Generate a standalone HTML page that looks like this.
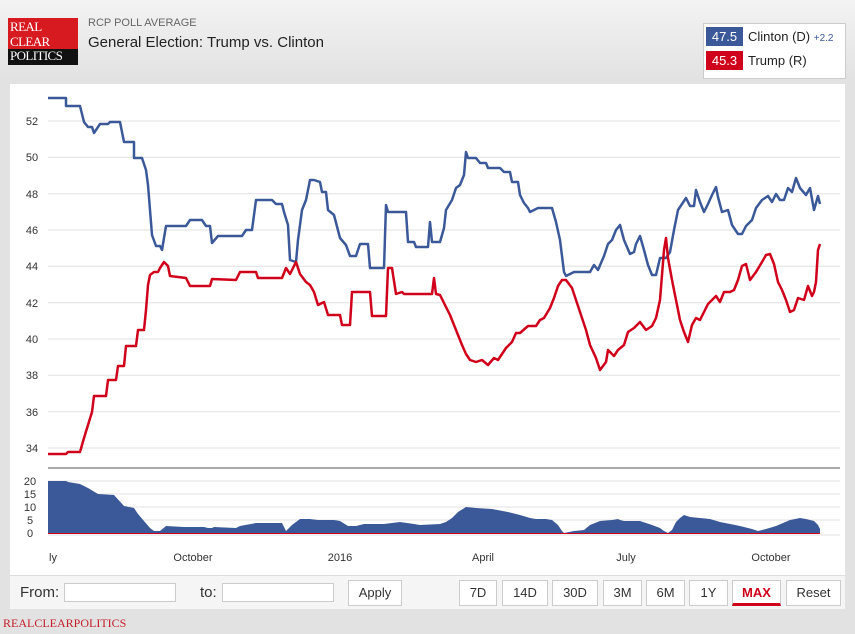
<!DOCTYPE html>
<html><head><meta charset="utf-8"><style>
body{margin:0;width:855px;height:634px;background:linear-gradient(#f3f3f3,#e2e2e2 80px,#e2e2e2);font-family:"Liberation Sans",sans-serif;position:relative;overflow:hidden}
.abs{position:absolute}
.btn{position:absolute;top:580px;height:24px;border:1px solid #ccc;background:#fff;font-size:13px;color:#333;text-align:center;line-height:24px}
.inp{position:absolute;top:583px;height:17px;border:1px solid #ccc;background:#fff}
</style></head><body>
<div class="abs" style="left:8px;top:18px;width:70px;height:46px;background:#d71920"></div>
<div class="abs" style="left:8px;top:49px;width:70px;height:16px;background:#111"></div>
<div class="abs" style="left:10px;top:20px;font-family:'Liberation Serif',serif;font-size:13px;line-height:14.5px;color:#fff;letter-spacing:-0.6px">REAL<br>CLEAR<br>POLITICS</div>
<div class="abs" style="left:88px;top:17px;font-size:11px;color:#666">RCP POLL AVERAGE</div>
<div class="abs" style="left:88px;top:34px;font-size:15px;color:#222">General Election: Trump vs. Clinton</div>
<div class="abs" style="left:703px;top:23px;width:141px;height:54px;background:#fff;border:1px solid #ccc"></div>
<div class="abs" style="left:706px;top:27px;width:37px;height:19px;background:#3b5998;color:#fff;font-size:13px;line-height:19px;text-align:center">47.5</div>
<div class="abs" style="left:748px;top:29px;font-size:13px;color:#222">Clinton (D) <span style="font-size:10px;color:#3b5998">+2.2</span></div>
<div class="abs" style="left:706px;top:51px;width:37px;height:19px;background:#d0021b;color:#fff;font-size:13px;line-height:19px;text-align:center">45.3</div>
<div class="abs" style="left:748px;top:53px;font-size:13px;color:#222">Trump (R)</div>
<div class="abs" style="left:10px;top:84px;width:835px;height:492px;background:#fff"></div>
<svg class="abs" style="left:0;top:0" width="855" height="634" font-family="Liberation Sans" font-size="11" fill="#333">
<g stroke="#e0e0e0" stroke-width="1">
<line x1="48" x2="840" y1="121" y2="121"/><line x1="48" x2="840" y1="157.3" y2="157.3"/><line x1="48" x2="840" y1="193.7" y2="193.7"/><line x1="48" x2="840" y1="230" y2="230"/><line x1="48" x2="840" y1="266.3" y2="266.3"/><line x1="48" x2="840" y1="302.7" y2="302.7"/><line x1="48" x2="840" y1="339" y2="339"/><line x1="48" x2="840" y1="375.3" y2="375.3"/><line x1="48" x2="840" y1="411.7" y2="411.7"/><line x1="48" x2="840" y1="448" y2="448"/>
<line x1="48" x2="840" y1="481" y2="481"/><line x1="48" x2="840" y1="494" y2="494"/><line x1="48" x2="840" y1="507" y2="507"/><line x1="48" x2="840" y1="520" y2="520"/><line x1="48" x2="840" y1="535" y2="535"/>
</g>
<line x1="48" x2="840" y1="468" y2="468" stroke="#aaa" stroke-width="2"/>
<g text-anchor="middle">
<text x="32" y="125">52</text><text x="32" y="161">50</text><text x="32" y="198">48</text><text x="32" y="234">46</text><text x="32" y="270">44</text><text x="32" y="307">42</text><text x="32" y="343">40</text><text x="32" y="379">38</text><text x="32" y="416">36</text><text x="32" y="452">34</text>
<text x="30" y="485">20</text><text x="30" y="498">15</text><text x="30" y="511">10</text><text x="30" y="524">5</text><text x="30" y="537">0</text>
<text x="53" y="561">ly</text><text x="193" y="561">October</text><text x="340" y="561">2016</text><text x="483" y="561">April</text><text x="626" y="561">July</text><text x="771" y="561">October</text>
</g>
<polygon fill="#3b5998" points="48,533 48,481 66,481 68,482 80,484 88,488 98,494 114,495 124,506 134,508 138,514 150,528 154,531 160,531 166,526 184,527 190,527 204,527 208,528 212,528 214,527 236,528 240,526 256,523 282,523 284,527 286,531 288,529 292,525 300,519 310,519 318,520 328,520 334,520 340,521 348,526 356,526 364,524 384,524 392,523 400,522 414,524 420,525 440,524 446,522 452,518 458,512 466,507 476,508 492,509 508,512 520,515 530,518 536,519 546,519 552,520 558,525 562,531 564,533 574,531 584,530 590,525 600,521 612,520 618,519 620,520 624,521 640,521 652,525 660,528 664,531 668,533 672,530 676,522 680,518 684,515 690,517 700,518 710,519 720,522 730,524 740,526 752,529 758,531 766,529 776,526 790,520 800,518 806,519 814,521 818,525 820,529 820,533"/>
<line x1="48" x2="820" y1="533.5" y2="533.5" stroke="#d0021b" stroke-width="1"/>
<polyline fill="none" stroke="#3b5998" stroke-width="2.5" stroke-linejoin="round" points="48,98 66,98 66,106 80,106 84,122 88,127 92,127 94,133 100,124 108,124 110,122 120,122 124,142 134,142 134,158 142,158 146,170 148,185 150,210 152,235 156,246 160,246 162,250 166,226 186,226 190,220 202,220 206,226 210,226 212,243 218,236 242,236 246,230 252,230 256,200 272,200 276,204 282,204 284,212 288,225 290,260 296,262 298,240 302,210 306,200 310,180 314,180 320,182 322,192 326,192 328,210 334,215 340,238 346,245 350,256 356,256 360,244 368,244 370,268 384,268 386,205 388,212 406,212 408,242 414,242 416,247 428,247 430,222 432,242 440,242 444,228 446,210 452,200 456,188 460,185 464,175 466,152 468,158 476,158 480,163 486,163 488,168 500,168 504,172 510,172 512,182 518,182 520,195 524,203 528,208 530,212 534,210 538,208 552,208 556,222 560,240 564,272 566,276 574,272 590,272 594,265 598,270 604,256 608,244 612,240 616,230 620,225 624,240 630,254 634,252 636,244 640,236 644,250 648,265 652,275 656,275 660,258 666,258 670,252 674,230 678,210 682,204 686,198 690,206 694,206 696,190 700,202 704,212 708,204 712,195 716,187 718,197 722,212 728,210 732,225 738,234 742,234 746,226 752,220 756,208 762,200 768,196 772,202 776,194 780,200 784,200 788,188 792,192 796,178 800,188 806,195 810,188 814,210 818,196 820,204"/>
<polyline fill="none" stroke="#d0021b" stroke-width="2.5" stroke-linejoin="round" points="48,454 66,454 68,452 80,452 84,438 88,425 92,412 94,396 106,396 108,380 116,380 118,366 124,366 126,346 136,346 138,330 144,330 146,310 148,285 150,275 154,272 158,272 160,268 164,262 168,266 170,276 186,278 190,286 210,286 212,279 236,280 240,272 256,272 258,278 282,278 286,268 290,274 296,262 300,274 306,282 310,285 314,292 318,305 324,302 328,315 340,315 342,325 350,325 352,292 370,292 372,316 386,316 388,268 392,268 396,294 402,292 404,294 432,294 434,278 436,294 440,295 444,303 450,315 456,330 462,345 466,354 470,360 476,362 482,360 488,365 494,358 498,360 506,348 512,342 516,333 520,333 528,326 536,326 540,320 544,318 550,308 554,298 558,286 562,280 566,280 572,288 576,300 582,318 586,330 590,345 596,358 600,370 606,362 608,350 614,356 618,350 624,345 628,332 634,328 640,322 646,330 652,326 656,318 660,300 664,250 666,238 668,258 672,280 676,300 680,320 684,332 688,342 692,325 696,318 700,320 704,312 708,304 712,300 716,296 720,302 724,292 730,292 734,290 738,280 742,266 746,264 750,280 756,272 762,262 766,255 770,254 774,264 778,282 782,290 786,300 790,312 794,310 798,298 804,300 808,286 812,296 814,292 816,282 818,250 820,244"/>
</svg>
<div class="abs" style="left:10px;top:575px;width:835px;height:33px;background:#f5f5f5;border-top:1px solid #ddd"></div>
<div class="abs" style="left:20px;top:584px;font-size:15px;color:#333">From:</div>
<div class="inp" style="left:64px;width:110px"></div>
<div class="abs" style="left:200px;top:584px;font-size:15px;color:#333">to:</div>
<div class="inp" style="left:222px;width:110px"></div>
<div class="btn" style="left:348px;width:52px">Apply</div>
<div class="btn" style="left:459px;width:36px">7D</div>
<div class="btn" style="left:502px;width:44px">14D</div>
<div class="btn" style="left:552px;width:44px">30D</div>
<div class="btn" style="left:603px;width:37px">3M</div>
<div class="btn" style="left:646px;width:37px">6M</div>
<div class="btn" style="left:689px;width:37px">1Y</div>
<div class="btn" style="left:732px;width:47px;color:#d0021b;font-weight:bold;border-bottom:3px solid #d0021b;height:22px">MAX</div>
<div class="btn" style="left:786px;width:53px">Reset</div>
<div class="abs" style="left:3px;top:616px;font-family:'Liberation Serif',serif;font-size:12px;color:#c41e2a">REALCLEARPOLITICS</div>
</body></html>
